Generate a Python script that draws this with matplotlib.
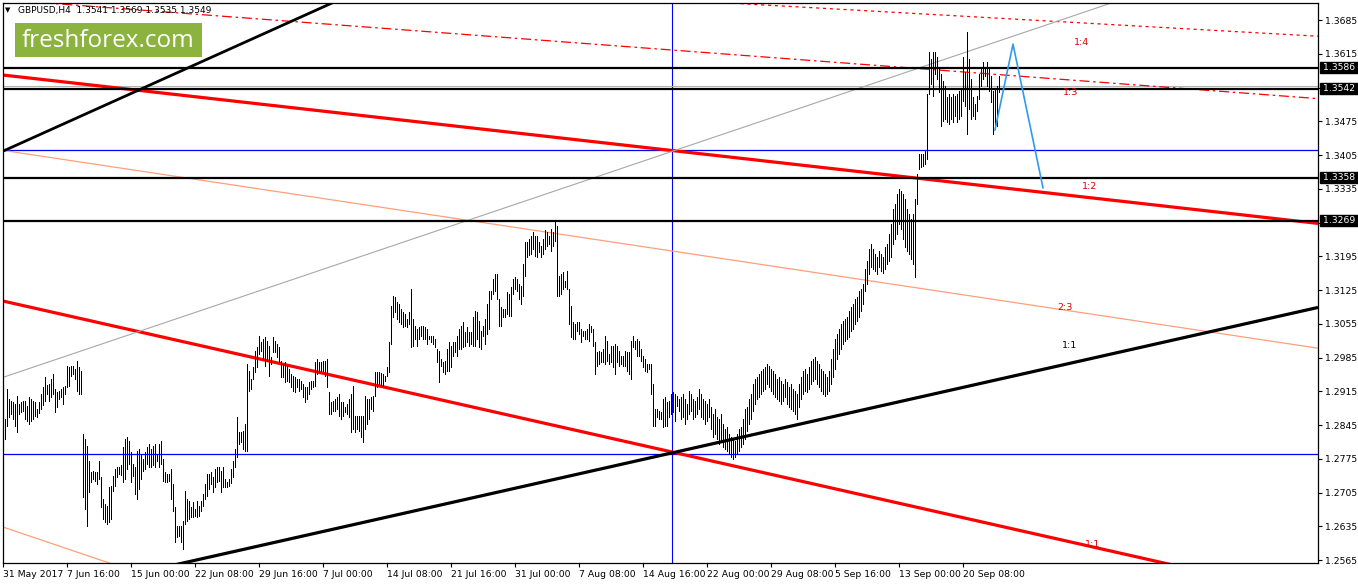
import numpy as np
import matplotlib
matplotlib.use("Agg")
import matplotlib.pyplot as plt
from matplotlib.patches import Rectangle
from matplotlib.transforms import blended_transform_factory

# ---------------- data ----------------
symbol_title = "GBPUSD,H4  1.3541 1.3569 1.3535 1.3549"

# H4 bar highs / lows (price x 10000), one per bar, 31 May 2017 -> 22 Sep 2017
high = [
    12826, 12858, 12920, 12899, 12895, 12893, 12889, 12905, 12889, 12893,
    12895, 12895, 12885, 12903, 12899, 12895, 12893, 12878, 12893, 12909,
    12924, 12945, 12928, 12930, 12941, 12951, 12920, 12913, 12915, 12920,
    12924, 12926, 12968, 12965, 12968, 12968, 12961, 12978, 12965, 12957,
    12827, 12816, 12801, 12770, 12748, 12750, 12748, 12748, 12770, 12737,
    12692, 12682, 12677, 12716, 12718, 12739, 12754, 12757, 12757, 12762,
    12799, 12816, 12820, 12812, 12789, 12764, 12759, 12791, 12795, 12785,
    12774, 12789, 12799, 12806, 12795, 12801, 12806, 12785, 12806, 12812,
    12774, 12748, 12744, 12744, 12754, 12723, 12675, 12635, 12635, 12635,
    12646, 12708, 12692, 12688, 12675, 12686, 12671, 12688, 12677, 12688,
    12702, 12723, 12744, 12744, 12748, 12737, 12754, 12757, 12759, 12750,
    12757, 12733, 12727, 12733, 12754, 12770, 12795, 12861, 12831, 12831,
    12833, 12848, 12972, 12957, 12941, 12965, 12999, 13007, 13030, 13018,
    13024, 13028, 13020, 13009, 12986, 13028, 13020, 13013, 13007, 12978,
    12972, 12976, 12967, 12961, 12951, 12947, 12945, 12941, 12941, 12937,
    12931, 12924, 12924, 12935, 12937, 12937, 12976, 12982, 12976, 12976,
    12978, 12978, 12982, 12914, 12893, 12895, 12899, 12904, 12910, 12893,
    12893, 12883, 12889, 12899, 12910, 12926, 12864, 12864, 12864, 12864,
    12864, 12905, 12899, 12899, 12904, 12905, 12955, 12955, 12955, 12953,
    12951, 12947, 12965, 13018, 13092, 13113, 13111, 13100, 13096, 13086,
    13080, 13076, 13065, 13080, 13127, 13065, 13050, 13044, 13048, 13050,
    13050, 13048, 13044, 13030, 13030, 13030, 13024, 13003, 12999, 12982,
    12976, 12978, 13003, 13018, 13009, 13018, 13018, 13030, 13044, 13050,
    13059, 13038, 13048, 13038, 13038, 13069, 13082, 13080, 13061, 13040,
    13050, 13065, 13096, 13123, 13123, 13148, 13158, 13158, 13106, 13090,
    13086, 13086, 13121, 13117, 13131, 13148, 13152, 13148, 13137, 13133,
    13179, 13225, 13225, 13231, 13237, 13246, 13237, 13237, 13225, 13216,
    13231, 13250, 13246, 13237, 13252, 13246, 13268, 13258, 13154, 13158,
    13162, 13144, 13165, 13127, 13092, 13059, 13055, 13059, 13059, 13044,
    13040, 13040, 13044, 13055, 13050, 13044, 13018, 12997, 12999, 12997,
    13003, 13030, 13020, 12993, 13009, 13009, 13013, 13009, 12999, 12988,
    12988, 12999, 12997, 12997, 13020, 13030, 13020, 13024, 13020, 13003,
    12988, 12982, 12972, 12972, 12972, 12931, 12878, 12878, 12874, 12872,
    12899, 12904, 12893, 12895, 12910, 12914, 12910, 12905, 12899, 12904,
    12910, 12899, 12889, 12916, 12910, 12899, 12895, 12904, 12920, 12910,
    12899, 12895, 12889, 12899, 12883, 12868, 12878, 12861, 12858, 12868,
    12848, 12837, 12841, 12827, 12820, 12816, 12812, 12827, 12837, 12841,
    12858, 12878, 12883, 12899, 12910, 12931, 12941, 12945, 12951, 12957,
    12961, 12965, 12972, 12967, 12961, 12957, 12951, 12941, 12945, 12937,
    12931, 12941, 12935, 12924, 12931, 12920, 12916, 12910, 12931, 12945,
    12957, 12961, 12951, 12965, 12978, 12982, 12986, 12978, 12972, 12961,
    12957, 12951, 12945, 12957, 12982, 13003, 13024, 13034, 13044, 13055,
    13061, 13065, 13069, 13082, 13090, 13096, 13106, 13111, 13123, 13127,
    13137, 13169, 13186, 13210, 13221, 13210, 13200, 13193, 13206, 13200,
    13193, 13214, 13221, 13241, 13262, 13293, 13304, 13325, 13335, 13331,
    13325, 13314, 13293, 13283, 13273, 13283, 13314, 13366, 13408, 13408,
    13408, 13414, 13532, 13619, 13604, 13619, 13619, 13608, 13584, 13573,
    13558, 13548, 13525, 13532, 13525, 13532, 13527, 13532, 13538, 13542,
    13608, 13577, 13660, 13604, 13563, 13525, 13511, 13527, 13573, 13584,
    13598, 13588, 13598, 13584, 13569, 13538, 13542, 13548, 13569,
]
low = [
    12770, 12816, 12843, 12862, 12868, 12858, 12843, 12831, 12868, 12872,
    12874, 12858, 12853, 12847, 12853, 12858, 12864, 12862, 12870, 12878,
    12887, 12895, 12909, 12895, 12903, 12909, 12872, 12883, 12899, 12903,
    12889, 12909, 12924, 12926, 12947, 12951, 12941, 12915, 12909, 12909,
    12695, 12671, 12635, 12706, 12727, 12733, 12729, 12723, 12733, 12675,
    12650, 12644, 12640, 12644, 12650, 12708, 12718, 12737, 12744, 12741,
    12727, 12733, 12754, 12764, 12727, 12739, 12702, 12692, 12712, 12733,
    12750, 12754, 12764, 12759, 12757, 12762, 12759, 12770, 12757, 12764,
    12729, 12727, 12727, 12729, 12692, 12667, 12603, 12613, 12614, 12603,
    12588, 12640, 12646, 12650, 12654, 12654, 12656, 12654, 12656, 12667,
    12677, 12692, 12698, 12712, 12723, 12706, 12716, 12727, 12729, 12706,
    12716, 12716, 12716, 12718, 12725, 12737, 12757, 12778, 12806, 12810,
    12795, 12791, 12791, 12916, 12920, 12941, 12955, 12965, 12993, 12999,
    12982, 12967, 12978, 12947, 12972, 12997, 12997, 12986, 12976, 12945,
    12945, 12935, 12937, 12935, 12924, 12916, 12914, 12924, 12916, 12920,
    12904, 12893, 12899, 12910, 12920, 12924, 12926, 12951, 12955, 12957,
    12957, 12947, 12924, 12868, 12868, 12874, 12874, 12878, 12864, 12858,
    12864, 12872, 12868, 12861, 12831, 12837, 12831, 12837, 12833, 12820,
    12810, 12837, 12848, 12858, 12878, 12874, 12905, 12924, 12931, 12929,
    12926, 12937, 12947, 12955, 13013, 13069, 13080, 13065, 13059, 13055,
    13048, 13050, 13048, 13055, 13007, 13009, 13024, 13009, 13024, 13030,
    13024, 13024, 13013, 13024, 13018, 13013, 13007, 12976, 12935, 12967,
    12955, 12951, 12957, 12957, 12965, 12988, 12997, 12988, 13003, 13003,
    13007, 13009, 13018, 13009, 13013, 13009, 13009, 13024, 13007, 13003,
    13030, 13013, 13034, 13044, 13106, 13117, 13123, 13106, 13050, 13050,
    13069, 13069, 13076, 13071, 13071, 13117, 13127, 13123, 13106, 13096,
    13113, 13154, 13193, 13198, 13200, 13210, 13196, 13193, 13204, 13193,
    13200, 13210, 13216, 13221, 13206, 13216, 13227, 13113, 13113, 13117,
    13127, 13131, 13127, 13055, 13028, 13024, 13024, 13040, 13034, 13018,
    13030, 13024, 13024, 13020, 13038, 13009, 12951, 12967, 12972, 12976,
    12976, 12972, 12978, 12972, 12976, 12965, 12951, 12976, 12967, 12972,
    12967, 12967, 12957, 12951, 12941, 13007, 13003, 12988, 12988, 12978,
    12965, 12957, 12955, 12961, 12910, 12843, 12843, 12861, 12858, 12858,
    12841, 12843, 12843, 12861, 12868, 12872, 12854, 12885, 12874, 12858,
    12861, 12848, 12858, 12868, 12874, 12858, 12861, 12868, 12878, 12861,
    12858, 12848, 12854, 12861, 12837, 12820, 12827, 12816, 12806, 12812,
    12799, 12795, 12791, 12785, 12778, 12774, 12778, 12785, 12791, 12799,
    12806, 12816, 12833, 12848, 12858, 12874, 12889, 12899, 12904, 12910,
    12916, 12920, 12931, 12924, 12916, 12910, 12904, 12899, 12895, 12889,
    12895, 12904, 12889, 12883, 12878, 12874, 12868, 12858, 12883, 12899,
    12910, 12916, 12914, 12920, 12931, 12937, 12941, 12931, 12924, 12916,
    12910, 12905, 12910, 12916, 12931, 12945, 12961, 12982, 12993, 13003,
    13013, 13020, 13024, 13028, 13040, 13044, 13055, 13061, 13069, 13082,
    13096, 13123, 13137, 13158, 13173, 13169, 13165, 13158, 13173, 13165,
    13160, 13169, 13179, 13186, 13193, 13221, 13231, 13241, 13262, 13252,
    13231, 13214, 13206, 13200, 13190, 13179, 13152, 13304, 13376, 13380,
    13382, 13387, 13397, 13532, 13553, 13527, 13573, 13563, 13536, 13465,
    13476, 13480, 13474, 13469, 13480, 13474, 13486, 13474, 13480, 13486,
    13517, 13507, 13448, 13501, 13480, 13486, 13480, 13496, 13521, 13548,
    13563, 13569, 13548, 13538, 13515, 13448, 13459, 13465, 13535,
]

date_labels = ["31 May 2017", "7 Jun 16:00", "15 Jun 00:00", "22 Jun 08:00",
               "29 Jun 16:00", "7 Jul 00:00", "14 Jul 08:00", "21 Jul 16:00",
               "31 Jul 00:00", "7 Aug 08:00", "14 Aug 16:00", "22 Aug 00:00",
               "29 Aug 08:00", "5 Sep 16:00", "13 Sep 00:00", "20 Sep 08:00"]
date_label_bars = [0, 32, 64, 96, 128, 160, 192, 224, 256, 288, 320, 352,
                   384, 416, 448, 480]

price_ticks = [1.2565, 1.2635, 1.2705, 1.2775, 1.2845, 1.2915, 1.2985, 1.3055,
               1.3125, 1.3195, 1.3265, 1.3335, 1.3405, 1.3475, 1.3545, 1.3615,
               1.3685]

black_levels = [1.3586, 1.3542, 1.3358, 1.3269]
blue_levels = [1.3415, 1.2785]
bid_level = 1.3549
vline_bar = 334.3

# Gann fans: origin (bar index, price) and 1:1 slope (price per bar)
red_fan_origin = (-1001.5, 1.40396)
red_fan_slope = -0.0000936
red_fan_ratios = [1.0, 1 / 2, 2 / 3, 1 / 3, 1 / 4, 3 / 2]
black_fan_origin = (-1004.5, 1.15366)
black_fan_slope = 0.0000934
black_fan_ratios = [1.0, 2.0, 3 / 2]

projection_bars = [496, 505, 520]
projection_prices = [1.3457, 1.3635, 1.3337]

fan_label_text = ["1:4", "1:3", "1:2", "2:3", "1:1", "1:1"]
fan_label_bar = [539.5, 534, 543.5, 531, 533.5, 545]
fan_label_price = [1.3639, 1.3534, 1.3339, 1.3088, 1.3009, 1.2598]
fan_label_color = ["#e00000", "#e00000", "#e00000", "#e00000", "black", "#e00000"]

# ---------------- styles ----------------
red_styles = {
    1.0: dict(color="#ff0000", lw=2.3, ls="-"),
    1 / 2: dict(color="#ff0000", lw=2.3, ls="-"),
    2 / 3: dict(color="#ff9f7a", lw=0.9, ls="-"),
    1 / 3: dict(color="#ff0000", lw=0.9, ls=(0, (8, 3, 2, 3))),
    1 / 4: dict(color="#ff0000", lw=0.9, ls=(0, (2.5, 3))),
    3 / 2: dict(color="#ff9f7a", lw=0.9, ls="-"),
}
black_styles = {
    1.0: dict(color="black", lw=2.3, ls="-"),
    2.0: dict(color="black", lw=2.0, ls="-"),
    3 / 2: dict(color="#a8a8a8", lw=0.8, ls="-"),
}

W, H = 1358, 584
fig = plt.figure(figsize=(W / 100, H / 100), dpi=100)
fig.patch.set_facecolor("white")
ax = fig.add_axes([2.5 / W, 1 - 563 / H, (1318 - 2.5) / W, (563 - 3) / H])
ax.set_facecolor("white")

xmin, xmax = -0.25, 657.5
ymin, ymax = 1.25589, 1.37203
ax.set_xlim(xmin, xmax)
ax.set_ylim(ymin, ymax)

# horizontal / vertical levels
for lvl in blue_levels:
    ax.axhline(lvl, color="#0000ff", lw=0.9, zorder=2)
ax.axvline(vline_bar, color="#0000ff", lw=0.8, zorder=2)
ax.axhline(bid_level, color="#b4b4b4", lw=0.8, zorder=2)
for lvl in black_levels:
    ax.axhline(lvl, color="black", lw=1.6, zorder=3)

# Gann fans
xs = np.array([xmin, xmax])
for r in red_fan_ratios:
    ys = red_fan_origin[1] + r * red_fan_slope * (xs - red_fan_origin[0])
    st = red_styles[r]
    ax.plot(xs, ys, color=st["color"], lw=st["lw"], ls=st["ls"], zorder=2.5,
            solid_capstyle="butt")
for r in black_fan_ratios:
    ys = black_fan_origin[1] + r * black_fan_slope * (xs - black_fan_origin[0])
    st = black_styles[r]
    ax.plot(xs, ys, color=st["color"], lw=st["lw"], ls=st["ls"], zorder=2.5,
            solid_capstyle="butt")

# price bars
hi = np.array(high) / 10000.0
lo = np.array(low) / 10000.0
idx = np.arange(len(hi))
ax.vlines(idx, lo, hi, colors="black", linewidth=0.55, antialiased=False, zorder=4)

# projection
ax.plot(projection_bars, projection_prices, color="#2f9bf0", lw=1.2, zorder=5)

# fan labels
for t, xb, pr, c in zip(fan_label_text, fan_label_bar, fan_label_price, fan_label_color):
    ax.text(xb, pr, t, color=c, fontsize=6.8, ha="center", va="center", zorder=6)

# axes styling
for sp in ax.spines.values():
    sp.set_color("black")
    sp.set_linewidth(0.9)
ax.yaxis.tick_right()
ax.set_yticks(price_ticks)
# labels that sit under the highlighted level boxes are hidden, as in the terminal
hidden = [min(price_ticks, key=lambda v: abs(v - lvl)) for lvl in black_levels
          if min(abs(v - lvl) for v in price_ticks) < 0.0008]
ax.set_yticklabels(["" if v in hidden else f"{v:.4f}" for v in price_ticks])
ax.tick_params(axis="y", direction="out", length=3, width=0.8, pad=2,
               labelsize=6.7, colors="black")
ax.set_xticks(date_label_bars)
ax.set_xticklabels(date_labels)
for lbl in ax.get_xticklabels():
    lbl.set_ha("left")
ax.tick_params(axis="x", direction="out", length=3, width=0.8, pad=2,
               labelsize=6.7, colors="black")

# highlighted price labels
trans = blended_transform_factory(ax.transAxes, ax.transData)
axw_px = 1318 - 2.5
px_price = (ymax - ymin) / 560.0
for lvl in black_levels:
    ax.add_patch(Rectangle((1.0 + 1.5 / axw_px, lvl - 5.5 * px_price),
                           39 / axw_px, 11 * px_price, transform=trans,
                           facecolor="black", edgecolor="black",
                           clip_on=False, zorder=10))
    ax.text(1.0 + 5 / axw_px, lvl, f"{lvl:.4f}", transform=trans, color="white",
            fontsize=6.7, ha="left", va="center", clip_on=False, zorder=11)

# title and logo
fig.text(5 / W, 1 - 10 / H, "\u25BC", fontsize=5, va="center", ha="left")
fig.text(18 / W, 1 - 10 / H, symbol_title, fontsize=6.5, va="center", ha="left")
fig.add_artist(Rectangle((15 / W, 1 - 57 / H), 187 / W, 34 / H,
                         transform=fig.transFigure, facecolor="#8db33f",
                         edgecolor="none", zorder=20))
fig.text(108.5 / W, 1 - 41 / H, "freshforex.com", color="white", fontsize=17.5,
         family="Open Sans", ha="center", va="center", zorder=21)

fig.savefig("out.png", dpi=100)
